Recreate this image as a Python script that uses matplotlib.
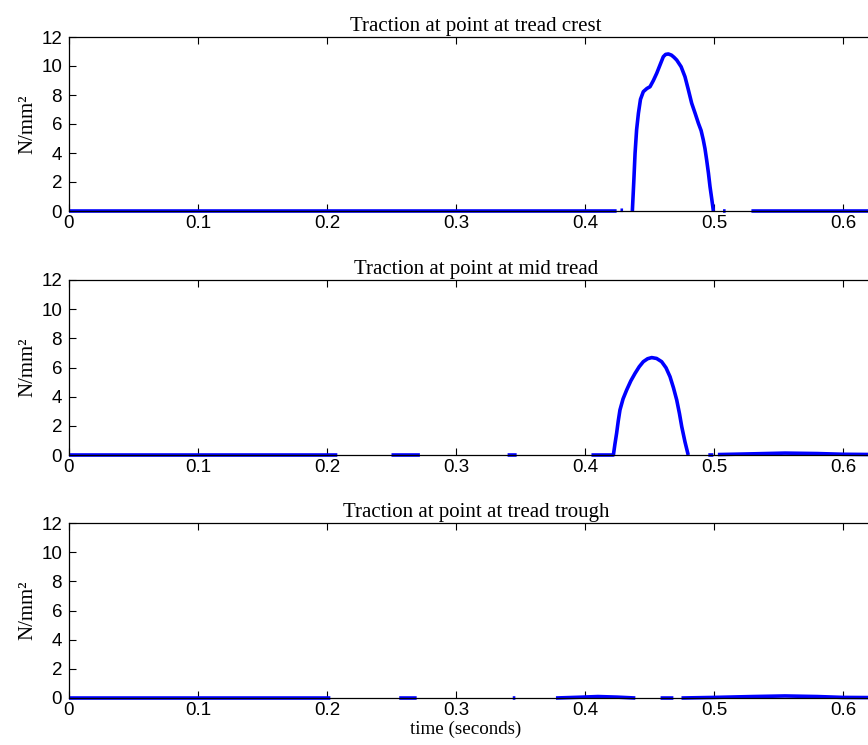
import numpy as np
import matplotlib
matplotlib.use('Agg')
import matplotlib.pyplot as plt

# traction at three points of the tread
# nan = trace dips below zero (not drawn in the original)
nan = np.nan

t_crest = [0.0, 0.4245, nan, 0.4275, 0.4295, nan,
           0.4367, 0.4378, 0.4388, 0.4400, 0.4414, 0.4430, 0.4452, 0.4480,
           0.4504, 0.4530, 0.4556, 0.4585, 0.4607, 0.4625, 0.4646, 0.4670,
           0.4690, 0.4711, 0.4745, 0.4775, 0.4800, 0.4827, 0.4855, 0.4879,
           0.4900, 0.4917, 0.4930, 0.4943, 0.4957, 0.4969, 0.4983, 0.4995,
           nan, 0.507, 0.509, nan, 0.529, 0.64]
v_crest = [0.0, 0.0, nan, 0.05, 0.05, nan,
           0.0, 2.0, 3.98, 5.6, 6.74, 7.7, 8.23, 8.45,
           8.57, 9.0, 9.5, 10.15, 10.64, 10.80, 10.83, 10.75,
           10.60, 10.41, 9.95, 9.26, 8.40, 7.43, 6.70, 6.05,
           5.55, 4.9, 4.3, 3.52, 2.6, 1.68, 0.8, 0.0,
           nan, 0.0, 0.0, nan, 0.0, 0.0]

t_mid = [0.0, 0.208, nan, 0.250, 0.272, nan, 0.340, 0.347, nan,
         0.405, 0.422, 0.4232, 0.4245, 0.4258, 0.4271, 0.4295, 0.4323,
         0.4355, 0.4388, 0.4420, 0.4452, 0.4485, 0.4517, 0.4555, 0.4594,
         0.4628, 0.4659, 0.4686, 0.4711, 0.4732, 0.4750, 0.4775, 0.480, nan,
         0.4956, 0.4995, nan, 0.503, 0.53, 0.555, 0.58, 0.60, 0.64]
v_mid = [0.0, 0.0, nan, 0.0, 0.0, nan, 0.0, 0.0, nan,
         0.0, 0.0, 0.75, 1.49, 2.35, 3.09, 3.85, 4.46,
         5.08, 5.6, 6.05, 6.4, 6.6, 6.68, 6.62, 6.4,
         5.98, 5.37, 4.6, 3.77, 2.85, 1.94, 0.9, 0.0, nan,
         0.0, 0.0, nan, 0.03, 0.08, 0.13, 0.1, 0.05, 0.02]

t_trough = [0.0, 0.2026, nan, 0.256, 0.2695, nan, 0.344, 0.346, nan,
            0.3775, 0.395, 0.41, 0.425, 0.439, nan, 0.4586, 0.4685, nan,
            0.4748, 0.50, 0.53, 0.555, 0.58, 0.60, 0.64]
v_trough = [0.0, 0.0, nan, 0.0, 0.0, nan, 0.0, 0.0, nan,
            0.0, 0.05, 0.1, 0.06, 0.0, nan, 0.0, 0.0, nan,
            0.0, 0.04, 0.1, 0.14, 0.1, 0.04, 0.02]

titles = ['Traction at point at tread crest',
          'Traction at point at mid tread',
          'Traction at point at tread trough']
series = [(t_crest, v_crest), (t_mid, v_mid), (t_trough, v_trough)]

yticks = [0, 2, 4, 6, 8, 10, 12]
xticks = [0, 0.1, 0.2, 0.3, 0.4, 0.5, 0.6]

W, H = 868, 745
fig = plt.figure(figsize=(W / 100, H / 100), dpi=100)

# axes boxes in pixels: (top, bottom); right edge runs past the image
boxes = [(37, 211), (280, 455), (523, 698)]
left, right = 69, 883

serif = 'Liberation Serif'
sans = 'Liberation Sans'

for i, ((top, bot), (t, v), title) in enumerate(zip(boxes, series, titles)):
    ax = fig.add_axes([left / W, 1 - bot / H, (right - left) / W, (bot - top) / H])
    ax.plot(t, v, color='#0000ff', lw=2.6, clip_on=False,
            solid_capstyle='butt', solid_joinstyle='round')
    ax.set_xlim(0, 0.631)
    ax.set_ylim(0, 12)
    ax.set_xticks(xticks)
    ax.set_xticklabels(['0', '0.1', '0.2', '0.3', '0.4', '0.5', '0.6'])
    ax.set_yticks(yticks)
    ax.tick_params(direction='in', top=True, right=True, length=5, width=0.8,
                   labelsize=13.5)
    ax.tick_params(axis='x', pad=3)
    ax.tick_params(axis='y', pad=5)
    for lab in ax.get_xticklabels() + ax.get_yticklabels():
        lab.set_family(sans)
    for s in ax.spines.values():
        s.set_linewidth(0.9)
    ax.set_title(title, family=serif, fontsize=15, pad=4)
    ax.set_ylabel('N/mm²', family=serif, fontsize=15, labelpad=3)
    if i == 2:
        ax.set_xlabel('time (seconds)', family=serif, fontsize=13.7)
        ax.xaxis.set_label_coords(0.487, -0.128)

fig.savefig('out.png', dpi=100)
